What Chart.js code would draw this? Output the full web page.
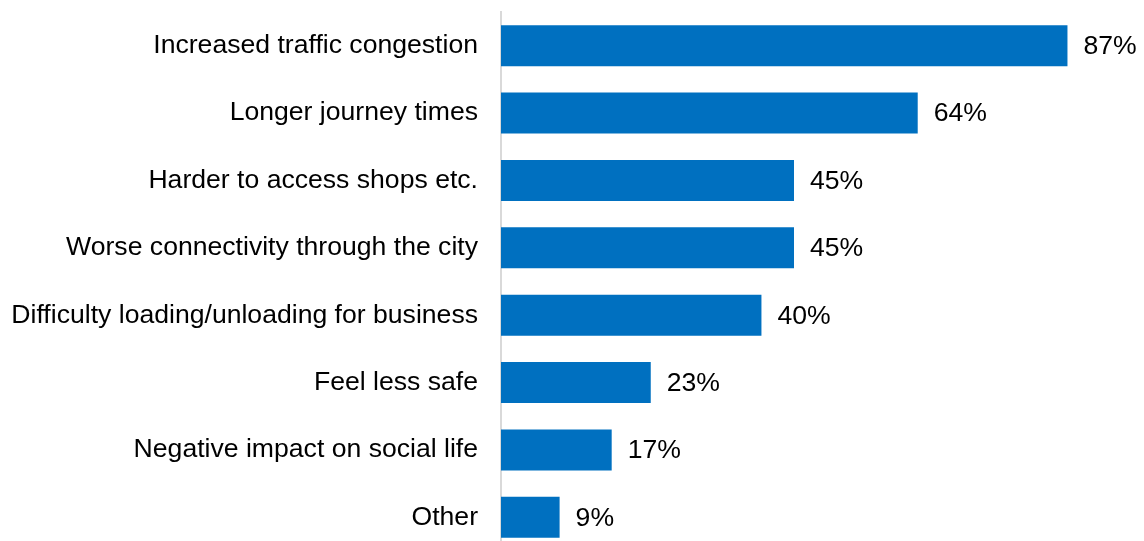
<!DOCTYPE html>
<html>
<head>
<meta charset="utf-8">
<script src="https://cdn.jsdelivr.net/npm/chart.js@4/dist/chart.umd.min.js"></script>
<style>
  html, body { margin: 0; padding: 0; background: #fff; overflow: hidden; }
  canvas { display: block; }
</style>
</head>
<body>
<canvas id="chart" width="1144" height="552"></canvas>
<script>
// Reported problems and share of respondents (%)
const categories = [
  'Increased traffic congestion',
  'Longer journey times',
  'Harder to access shops etc.',
  'Worse connectivity through the city',
  'Difficulty loading/unloading for business',
  'Feel less safe',
  'Negative impact on social life',
  'Other'
];
const shares = [87, 64, 45, 45, 40, 23, 17, 9];

const FONT = '"Liberation Sans", Arial, sans-serif';
const FONT_SIZE = 26.6;

// Writes the percentage just past the end of each bar
const valueLabels = {
  id: 'valueLabels',
  afterDatasetsDraw(chart) {
    const ctx = chart.ctx;
    const meta = chart.getDatasetMeta(0);
    ctx.save();
    ctx.font = FONT_SIZE + 'px ' + FONT;
    ctx.fillStyle = '#000';
    ctx.textAlign = 'left';
    ctx.textBaseline = 'middle';
    meta.data.forEach((bar, i) => {
      ctx.fillText(shares[i] + '%', bar.x + 16, bar.y + 1);
    });
    ctx.restore();
  }
};

new Chart(document.getElementById('chart'), {
  type: 'bar',
  data: {
    labels: categories,
    datasets: [{
      data: shares,
      backgroundColor: '#0070C0',
      borderWidth: 0,
      categoryPercentage: 1,
      barPercentage: 0.61
    }]
  },
  options: {
    indexAxis: 'y',
    responsive: false,
    animation: false,
    layout: { padding: { top: 12, bottom: 1, left: 0, right: 57 } },
    plugins: {
      legend: { display: false },
      tooltip: { enabled: false }
    },
    scales: {
      x: {
        display: false,
        min: 0,
        max: 90
      },
      y: {
        grid: { display: false, drawTicks: false },
        border: { display: true, color: '#d9d9d9', width: 2 },
        ticks: {
          color: '#000',
          padding: 23,
          font: { family: FONT, size: FONT_SIZE }
        },
        afterFit(scale) {
          scale.width = 501;
          scale.paddingTop = 0;
          scale.paddingBottom = 0;
        }
      }
    }
  },
  plugins: [valueLabels]
});
</script>
</body>
</html>
